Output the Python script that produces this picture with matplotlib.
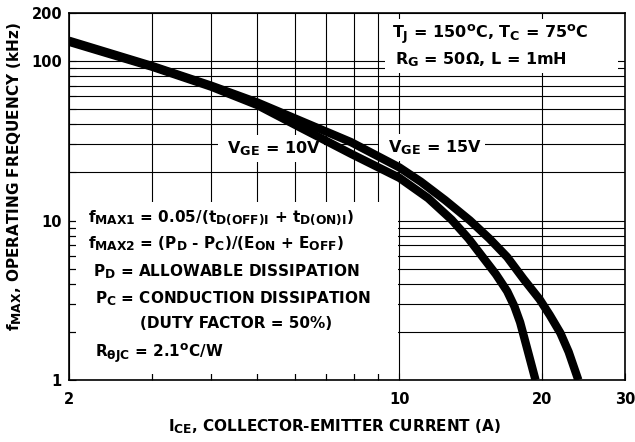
import numpy as np
import matplotlib
matplotlib.use("Agg")
import matplotlib.pyplot as plt
import matplotlib._mathtext as _mt
from matplotlib.patches import Rectangle
from matplotlib.ticker import FixedLocator, NullFormatter, FixedFormatter

_mt.SHRINK_FACTOR = 0.8  # larger subscripts, as in the datasheet lettering

plt.rcParams['font.family'] = ['DejaVu Sans']
plt.rcParams['font.weight'] = 'bold'
plt.rcParams['mathtext.fontset'] = 'custom'
plt.rcParams['mathtext.rm'] = 'DejaVu Sans:bold'
plt.rcParams['mathtext.it'] = 'DejaVu Sans:bold'
plt.rcParams['mathtext.bf'] = 'DejaVu Sans:bold'
plt.rcParams['mathtext.sf'] = 'DejaVu Sans:bold'

# ---- data ----
ice_10v = [2.0, 3.0, 4.0, 5.0, 6.2, 7.9, 10.0, 11.5, 12.9, 14.0, 15.0, 16.0, 16.9, 17.5, 18.0, 18.6, 19.4]
f_10v = [132, 92, 69, 53, 38, 26.2, 18.5, 13.8, 10.1, 7.7, 5.9, 4.6, 3.6, 2.9, 2.3, 1.6, 1.0]

ice_15v = [2.0, 3.0, 4.0, 5.0, 6.2, 7.9, 10.0, 11.1, 12.5, 14.1, 15.5, 16.9, 18.3, 19.8, 20.8, 21.9, 22.8, 23.9]
f_15v = [134, 93, 70, 55, 42, 31, 21.5, 17.5, 13.4, 10.0, 7.7, 5.9, 4.3, 3.2, 2.55, 1.97, 1.5, 1.0]

x_major = [2, 10, 20, 30]
x_major_labels = ['2', '10', '20', '30']
x_minor = [3, 4, 5, 6, 7, 8, 9]
y_major = [1, 10, 100, 200]
y_major_labels = ['1', '10', '100', '200']
y_minor = [2, 3, 4, 5, 6, 7, 8, 9, 20, 30, 40, 50, 60, 70, 80, 90]

# ---- figure ----
W, H = 635, 442
fig = plt.figure(figsize=(W / 100, H / 100), dpi=100)
L, R, T, B = 69, 625, 13, 380
ax = fig.add_axes([L / W, (H - B) / H, (R - L) / W, (B - T) / H])
ax.set_xscale('log')
ax.set_yscale('log')
ax.set_xlim(2, 30)
ax.set_ylim(1, 200)

ax.xaxis.set_major_locator(FixedLocator(x_major))
ax.xaxis.set_major_formatter(FixedFormatter(x_major_labels))
ax.xaxis.set_minor_locator(FixedLocator(x_minor))
ax.xaxis.set_minor_formatter(NullFormatter())
ax.yaxis.set_major_locator(FixedLocator(y_major))
ax.yaxis.set_major_formatter(FixedFormatter(y_major_labels))
ax.yaxis.set_minor_locator(FixedLocator(y_minor))
ax.yaxis.set_minor_formatter(NullFormatter())

ax.tick_params(which='both', direction='in', length=5, width=0.8, color='black')
ax.tick_params(axis='x', which='major', pad=9, labelsize=10.5)
ax.tick_params(axis='y', which='major', pad=5, labelsize=10.5)
for lab in ax.get_xticklabels() + ax.get_yticklabels():
    lab.set_fontweight('bold')

ax.grid(True, which='both', color='black', linewidth=0.8)
for s in ax.spines.values():
    s.set_linewidth(1.2)

# curves
ax.plot(ice_10v, f_10v, color='black', lw=6, solid_capstyle='butt',
        solid_joinstyle='round', zorder=3)
ax.plot(ice_15v, f_15v, color='black', lw=6, solid_capstyle='butt',
        solid_joinstyle='round', zorder=3)

# helper to convert data values to axes fractions
def fx(v):
    return np.log10(v / 2) / np.log10(15)
def fy(v):
    return np.log10(v) / np.log10(200)

# white boxes hiding the grid behind text blocks
ax.add_patch(Rectangle((0.012, 0.016), fx(10) - 0.014, fy(13) - 0.016,
                       transform=ax.transAxes, facecolor='white', edgecolor='none', zorder=2.6))
ax.add_patch(Rectangle((fx(9.3), fy(84)), 0.988 - fx(9.3), 0.985 - fy(84),
                       transform=ax.transAxes, facecolor='white', edgecolor='none', zorder=2.6))

def px2ax(px, py):
    return (px - L) / (R - L), (B - py) / (B - T)

fs = 11
# top right conditions
ax.text(*px2ax(392, 38), r'$T_J$ = 150$^o$C, $T_C$ = 75$^o$C', transform=ax.transAxes,
        fontsize=11.5, ha='left', va='baseline', zorder=4)
ax.text(*px2ax(395, 64), r'$R_G$ = 50Ω, L = 1mH', transform=ax.transAxes,
        fontsize=11.5, ha='left', va='baseline', zorder=4)

# curve labels
bbox = dict(boxstyle='square,pad=0.25', facecolor='white', edgecolor='none')
ax.text(*px2ax(271, 153), r' $V_{GE}$ = 10V ', transform=ax.transAxes,
        fontsize=11.5, ha='center', va='baseline', bbox=bbox, zorder=2.8)
ax.text(*px2ax(432, 152), r' $V_{GE}$ = 15V ', transform=ax.transAxes,
        fontsize=11.5, ha='center', va='baseline', bbox=bbox, zorder=2.8)

# lower-left notes
notes = [
    (88, 222, r'$f_{MAX1}$ = 0.05/($t_{D(OFF)I}$ + $t_{D(ON)I}$)'),
    (88, 248, r'$f_{MAX2}$ = ($P_D$ - $P_C$)/($E_{ON}$ + $E_{OFF}$)'),
    (93, 276, r'$P_D$ = ALLOWABLE DISSIPATION'),
    (95, 303, r'$P_C$ = CONDUCTION DISSIPATION'),
    (140, 328, '(DUTY FACTOR = 50%)'),
    (95, 357, r'$R_{θJC}$ = 2.1$^o$C/W'),
]
for px, py, s in notes:
    ax.text(*px2ax(px, py), s, transform=ax.transAxes, fontsize=fs,
            ha='left', va='baseline', zorder=4)

ax.set_xlabel(r'$I_{CE}$, COLLECTOR-EMITTER CURRENT (A)', fontsize=11, fontweight='bold')
ax.set_ylabel(r'$f_{MAX}$, OPERATING FREQUENCY (kHz)', fontsize=11, fontweight='bold')
ax.xaxis.set_label_coords(*px2ax(335, 427))
ax.yaxis.set_label_coords(*px2ax(15, 177))
ax.xaxis.label.set_va('center')
ax.yaxis.label.set_va('center')

fig.savefig('out.png', dpi=100)
